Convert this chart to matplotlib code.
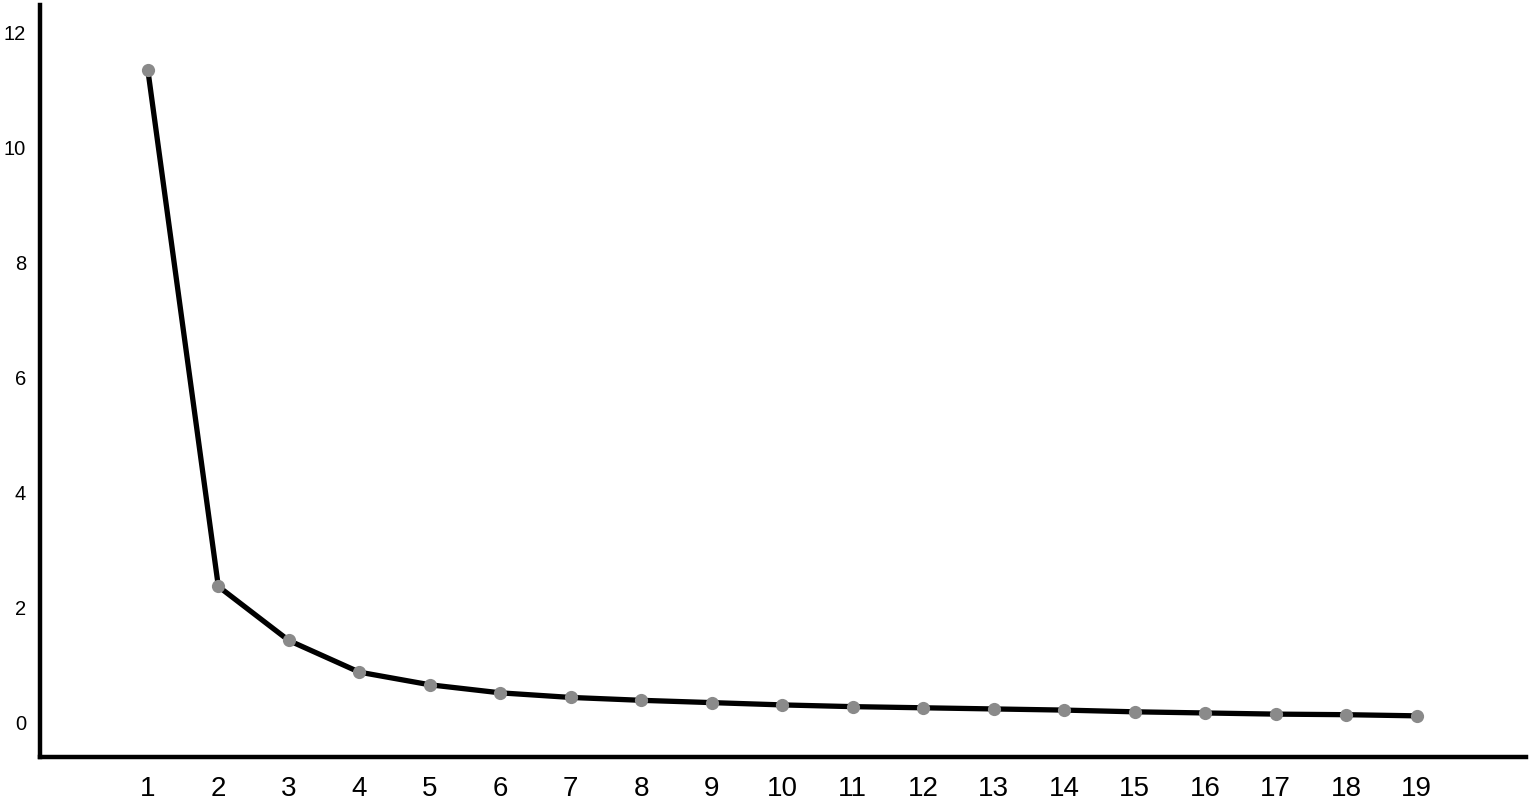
import matplotlib
matplotlib.use("Agg")
import matplotlib.pyplot as plt

components = list(range(1, 20))
eigenvalues = [11.35, 2.37, 1.43, 0.88, 0.66, 0.52, 0.44, 0.39, 0.35, 0.31,
               0.28, 0.26, 0.24, 0.22, 0.19, 0.17, 0.15, 0.14, 0.12]
y_ticks = [0, 2, 4, 6, 8, 10, 12]

plt.rcParams['font.family'] = ['Liberation Sans', 'DejaVu Sans']

fig = plt.figure(figsize=(15.35, 8.06), dpi=100)
ax = fig.add_axes([0.02606, 0.0612, 0.968, 0.9326])

ax.plot(components, eigenvalues, color='black', linewidth=3.8, zorder=2,
        solid_joinstyle='round')
ax.plot(components, eigenvalues, linestyle='none', marker='o', markersize=9.5,
        color='#8a8a8a', markeredgewidth=0, zorder=3)

ax.set_xlim(-0.53, 20.55)
ax.set_ylim(-0.59, 12.48)
ax.set_xticks(components)
ax.set_xticklabels([str(c) for c in components])
ax.set_yticks(y_ticks)

for s in ['top', 'right']:
    ax.spines[s].set_visible(False)
for s in ['left', 'bottom']:
    ax.spines[s].set_linewidth(3.2)
    ax.spines[s].set_color('black')

ax.tick_params(axis='x', length=0, labelsize=20, pad=14)
ax.tick_params(axis='y', length=0, labelsize=14.5, pad=10)

fig.savefig('out.png', dpi=100, facecolor='white')
